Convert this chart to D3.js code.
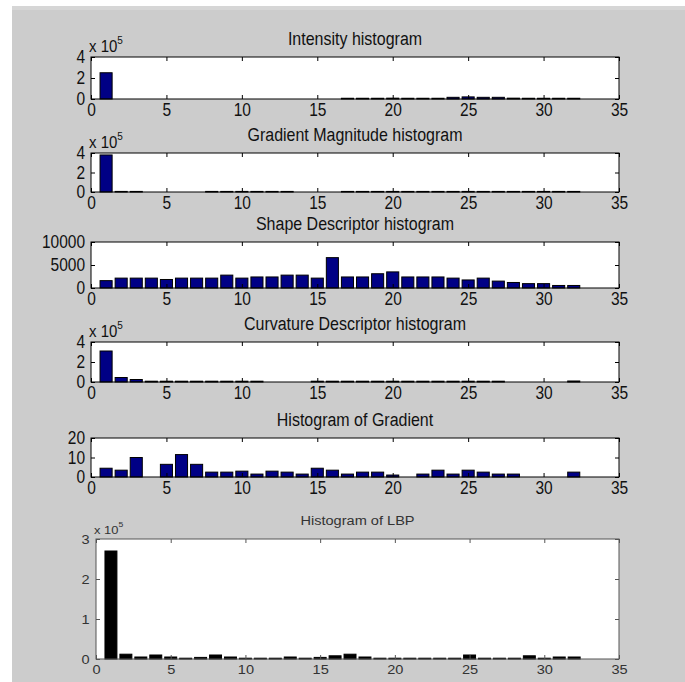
<!DOCTYPE html>
<html>
<head>
<meta charset="utf-8">
<script src="https://cdn.jsdelivr.net/npm/d3@7"></script>
<style>
  body { margin: 0; background: #ffffff; }
  svg { display: block; }
  .panel text { font-family: "Liberation Sans", Arial, sans-serif; fill: #111; }
  .lbp text { fill: #333; }
</style>
</head>
<body>
<div id="chart"></div>
<script>
// Histogram bins (categories)
var bins = [1, 2, 3, 4, 5, 6, 7, 8, 9, 10, 11, 12, 13, 14, 15, 16,
            17, 18, 19, 20, 21, 22, 23, 24, 25, 26, 27, 28, 29, 30, 31, 32];

// Series values, one per bin (x 10^5 where noted)
var intensityVals = [2.5, 0, 0, 0, 0, 0, 0, 0, 0, 0, 0, 0, 0, 0, 0, 0,
                     0.07, 0.07, 0.07, 0.08, 0.07, 0.07, 0.07, 0.16, 0.2, 0.16, 0.16, 0.08, 0.07, 0.07, 0.07, 0.07];
var gradMagVals = [3.8, 0.06, 0.06, 0, 0, 0, 0, 0.06, 0.06, 0.06, 0.06, 0.06, 0.06, 0, 0, 0,
                   0.06, 0.06, 0.06, 0.06, 0.06, 0.06, 0.06, 0.06, 0.06, 0.06, 0.06, 0.06, 0.06, 0.06, 0.06, 0.06];
var shapeVals = [1600, 2150, 2150, 2150, 1850, 2150, 2150, 2150, 2800, 2150, 2400, 2400, 2800, 2800, 2150, 6600,
                 2400, 2400, 3100, 3500, 2400, 2400, 2400, 2150, 1750, 2150, 1500, 1200, 950, 950, 550, 550];
var curvatureVals = [3.1, 0.45, 0.25, 0.08, 0.08, 0.08, 0.08, 0.08, 0.08, 0.08, 0.08, 0, 0, 0, 0.08, 0.08,
                     0.08, 0.08, 0.08, 0.08, 0.08, 0.08, 0.08, 0.08, 0.08, 0.08, 0.08, 0, 0, 0, 0, 0.1];
var hogVals = [4.5, 3.5, 10, 0, 6.5, 11.5, 6.5, 2.5, 2.5, 3, 1.5, 3, 2.5, 1.5, 4.5, 3.5,
               1.5, 2.5, 2.5, 1, 0, 1.5, 3.5, 1.5, 3.5, 2.5, 1.5, 1.5, 0, 0, 0, 2.5];
var lbpVals = [2.7, 0.12, 0.05, 0.1, 0.05, 0.02, 0.04, 0.1, 0.05, 0.02, 0.02, 0.02, 0.05, 0.02, 0.04, 0.08,
               0.12, 0.05, 0.02, 0.02, 0.02, 0.02, 0.02, 0.02, 0.1, 0.02, 0.02, 0.02, 0.08, 0.02, 0.05, 0.05];

// Tick labels
var xTicks = [0, 5, 10, 15, 20, 25, 30, 35];
var yTicksExp = [0, 2, 4];
var yTicksShape = [0, 5000, 10000];
var yTicksHog = [0, 10, 20];
var yTicksLbp = [0, 1, 2, 3];

var titles = ["Intensity histogram", "Gradient Magnitude histogram", "Shape Descriptor histogram",
              "Curvature Descriptor histogram", "Histogram of Gradient", "Histogram of LBP"];

// Define SVG area dimensions
var svgWidth = 685;
var svgHeight = 682;

var svg = d3.select("#chart")
  .append("svg")
  .attr("width", svgWidth)
  .attr("height", svgHeight);

// grey figure background
svg.append("rect")
  .attr("x", 12).attr("y", 6)
  .attr("width", svgWidth - 12).attr("height", svgHeight - 6)
  .attr("fill", "#cccccc");
svg.append("rect")
  .attr("x", 12).attr("y", 6)
  .attr("width", svgWidth - 12).attr("height", 4)
  .attr("fill", "#d6d6d6");

// panel layout
var panels = [
  { values: intensityVals, yMax: 4, yTicks: yTicksExp, exp: true, left: 91, top: 57, bottom: 99 },
  { values: gradMagVals, yMax: 4, yTicks: yTicksExp, exp: true, left: 91, top: 153, bottom: 192 },
  { values: shapeVals, yMax: 10000, yTicks: yTicksShape, exp: false, left: 91, top: 242, bottom: 288 },
  { values: curvatureVals, yMax: 4, yTicks: yTicksExp, exp: true, left: 91, top: 342, bottom: 382 },
  { values: hogVals, yMax: 20, yTicks: yTicksHog, exp: false, left: 91, top: 438, bottom: 477 },
  { values: lbpVals, yMax: 3, yTicks: yTicksLbp, exp: true, left: 96, top: 539, bottom: 659, lbp: true }
];
var right = 619;

panels.forEach(function(p, i) {
  var g = svg.append("g").attr("class", p.lbp ? "panel lbp" : "panel");
  var fontSize = p.lbp ? 13.5 : 15.5;
  // matlab text in the screenshot is a bit taller than it is wide
  var stretch = p.lbp ? "scale(1.08,0.95)" : "scale(1,1.14)";
  var axisColor = p.lbp ? "#555" : "#000";

  var x = d3.scaleLinear().domain([0, 35]).range([p.left, right]);
  var y = d3.scaleLinear().domain([0, p.yMax]).range([p.bottom, p.top]);

  // white plot area
  g.append("rect")
    .attr("x", p.left).attr("y", p.top)
    .attr("width", right - p.left).attr("height", p.bottom - p.top)
    .attr("fill", "#fff");

  // bars
  var bw = x(0.8) - x(0);
  g.selectAll(".bar")
    .data(bins)
    .enter()
    .append("rect")
    .attr("class", "bar")
    .attr("x", function(d) { return x(d) - bw / 2; })
    .attr("y", function(d, j) { return y(p.values[j]); })
    .attr("width", bw)
    .attr("height", function(d, j) { return Math.max(y(0) - y(p.values[j]), 0); })
    .attr("fill", p.lbp ? "#000" : "#000085")
    .attr("stroke", "#000")
    .attr("stroke-width", 1);

  // axes (ticks pointing inward, as MATLAB does)
  var bottomAxis = d3.axisBottom(x).tickValues(xTicks).tickSize(-4).tickSizeOuter(0).tickPadding(p.lbp ? 6 : 4);
  var topAxis = d3.axisTop(x).tickValues(xTicks).tickSize(-4).tickSizeOuter(0).tickFormat("");
  var leftAxis = d3.axisLeft(y).tickValues(p.yTicks).tickSize(-4).tickSizeOuter(0).tickPadding(6)
    .tickFormat(d3.format("d"));
  var rightAxis = d3.axisRight(y).tickValues(p.yTicks).tickSize(-4).tickSizeOuter(0).tickFormat("");

  var axes = [
    g.append("g").attr("transform", "translate(0," + p.bottom + ")").call(bottomAxis),
    g.append("g").attr("transform", "translate(0," + p.top + ")").call(topAxis),
    g.append("g").attr("transform", "translate(" + p.left + ",0)").call(leftAxis),
    g.append("g").attr("transform", "translate(" + right + ",0)").call(rightAxis)
  ];
  axes.forEach(function(a) {
    a.select(".domain").remove();
    a.selectAll("line").attr("stroke", axisColor);
    a.selectAll("text")
      .attr("font-size", fontSize + "px")
      .attr("font-family", null)
      .attr("fill", p.lbp ? "#333" : "#111")
      .attr("transform", stretch);
  });

  // frame
  g.append("rect")
    .attr("x", p.left).attr("y", p.top)
    .attr("width", right - p.left).attr("height", p.bottom - p.top)
    .attr("fill", "none")
    .attr("stroke", axisColor)
    .attr("stroke-width", 1);

  // title
  g.append("text")
    .attr("transform", "translate(" + ((p.left + right) / 2) + "," + (p.top - (p.lbp ? 14 : 12)) + ") " + stretch)
    .attr("text-anchor", "middle")
    .attr("font-size", (p.lbp ? 13.5 : 16) + "px")
    .text(titles[i]);

  // exponent label
  if (p.exp) {
    var e = g.append("text")
      .attr("transform", "translate(" + (p.left - 2) + "," + (p.top - 5) + ") " + stretch)
      .attr("font-size", (p.lbp ? 12 : 15) + "px")
      .text("x 10");
    e.append("tspan")
      .attr("dy", -7)
      .attr("font-size", (p.lbp ? 8 : 10) + "px")
      .text("5");
  }
});
</script>
</body>
</html>
